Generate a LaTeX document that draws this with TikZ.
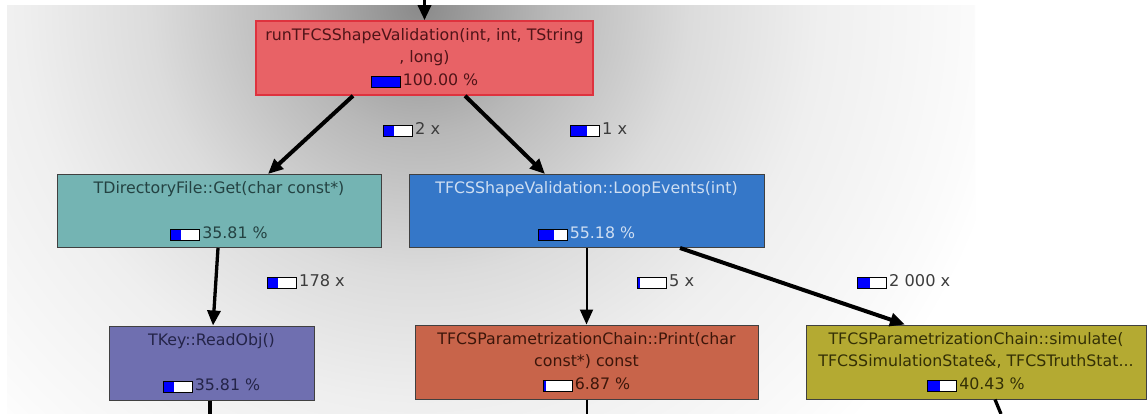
\documentclass[tikz,border=0pt]{standalone}
\usepackage{fontspec}
\setmainfont{DejaVu Sans}
\usetikzlibrary{arrows.meta}

% node fills
\definecolor{fnRed}{RGB}{232,98,102}
\definecolor{fnTeal}{RGB}{116,180,179}
\definecolor{fnBlue}{RGB}{53,119,200}
\definecolor{fnPurple}{RGB}{111,111,176}
\definecolor{fnOrange}{RGB}{200,100,74}
\definecolor{fnOlive}{RGB}{180,170,50}
% node text
\definecolor{txRed}{RGB}{80,20,24}
\definecolor{txTeal}{RGB}{36,66,66}
\definecolor{txBlue}{RGB}{206,222,242}
\definecolor{txPurple}{RGB}{36,36,72}
\definecolor{txOrange}{RGB}{60,22,10}
\definecolor{txOlive}{RGB}{52,48,6}
\definecolor{txLabel}{RGB}{60,60,60}
\definecolor{barBlue}{RGB}{0,0,255}
\definecolor{selRed}{RGB}{222,50,62}
% background glow
\definecolor{bgA}{RGB}{138,138,138}
\definecolor{bgB}{RGB}{184,184,184}
\definecolor{bgC}{RGB}{220,220,220}
\definecolor{bgD}{RGB}{239,239,239}
\definecolor{bgE}{RGB}{251,251,251}
\pgfdeclareradialshading{bgglow}{\pgfpoint{0bp}{0bp}}{%
  color(0bp)=(bgA); color(5.4bp)=(bgB); color(11.25bp)=(bgC);
  color(16.65bp)=(bgD); color(23.35bp)=(bgE); color(25bp)=(white);
  color(50bp)=(white)}

% cost bar: #1 = filled part of the 28pt inner width
\newcommand{\costbar}[1]{%
  \raisebox{-1.5pt}{\textcolor{black}{\setlength{\fboxsep}{0pt}\setlength{\fboxrule}{1pt}%
  \fbox{\textcolor{barBlue}{\rule{#1pt}{10pt}}\textcolor{white}{\rule{\dimexpr28pt-#1pt\relax}{10pt}}}}}%
  \hspace{2pt}}

\tikzset{
  fn/.style={rectangle, draw=black!75, line width=1pt, inner sep=0pt,
    align=center, font=\fontsize{15.8}{22.5}\selectfont},
  callcount/.style={anchor=west, inner sep=0pt, text=txLabel,
    font=\fontsize{16.2}{19}\selectfont},
  call/.style={draw=black, -{Triangle[length=15pt,width=13pt]}},
  heavy/.style={line width=4pt},
  medium/.style={line width=3.3pt},
  light/.style={line width=2pt},
}

\begin{document}
\begin{tikzpicture}[x=1pt,y=-1pt]
\useasboundingbox (0,0) rectangle (1148,414);
\fill[white] (0,0) rectangle (1148,414);
\begin{scope}
  \clip (7,6) rectangle (975,414);
  \shade[shading=bgglow] (420,6) circle (600pt);
\end{scope}

% functions
\node[fn, fill=fnRed, draw=selRed, line width=1.6pt, text=txRed,
      minimum width=337pt, minimum height=74pt] (top) at (424.5,58)
  {runTFCSShapeValidation(int, int, TString\\, long)\\\costbar{28}100.00 \%};
\node[fn, fill=fnTeal, text=txTeal, minimum width=324pt, minimum height=73pt]
  (get) at (219,211)
  {TDirectoryFile::Get(char const*)\\\strut\\\costbar{10}35.81 \%};
\node[fn, fill=fnBlue, text=txBlue, minimum width=355pt, minimum height=73pt]
  (loop) at (586.5,211)
  {TFCSShapeValidation::LoopEvents(int)\\\strut\\\costbar{15.5}55.18 \%};
\node[fn, fill=fnPurple, text=txPurple, minimum width=205pt, minimum height=74pt]
  (read) at (211.5,363)
  {TKey::ReadObj()\\\strut\\\costbar{10}35.81 \%};
\node[fn, fill=fnOrange, text=txOrange, minimum width=343pt, minimum height=74pt]
  (print) at (586.5,362)
  {TFCSParametrizationChain::Print(char\\const*) const\\\costbar{1.9}6.87 \%};
\node[fn, fill=fnOlive, text=txOlive, minimum width=340pt, minimum height=74pt]
  (sim) at (976,362)
  {TFCSParametrizationChain::simulate(\\TFCSSimulationState\&, TFCSTruthStat...\\\costbar{11.3}40.43 \%};

% loose ends of calls leaving the view
\coordinate (caller) at (424.5,0);
\coordinate (readOut) at (210,414);
\coordinate (printOut) at (586.5,414);
\coordinate (simOut) at (1001,414);

% calls
\draw[call, medium] (caller) -- (top.north);
\draw[call, heavy] ([xshift=-71.5pt]top.south) -- ([xshift=49pt]get.north);
\draw[call, heavy] ([xshift=40.5pt]top.south) -- ([xshift=-41.5pt]loop.north);
\draw[call, medium] ([xshift=-1pt]get.south) -- ([xshift=1.5pt]read.north);
\draw[call, light] (loop.south) -- (print.north);
\draw[call, heavy] ([xshift=93.5pt]loop.south) -- ([xshift=-71pt]sim.north);
\draw[medium] ([xshift=-1.5pt]read.south) -- (readOut);
\draw[light] (print.south) -- (printOut);
\draw[medium] ([xshift=19pt]sim.south) -- (simOut);

% call counts
\node[callcount] (c1) at (383,130) {\costbar{10}2 x};
\node[callcount] (c2) at (570,130) {\costbar{15.5}1 x};
\node[callcount] (c3) at (267,282) {\costbar{10}178 x};
\node[callcount] (c4) at (637,282) {\costbar{1.9}5 x};
\node[callcount] (c5) at (857,282) {\costbar{11.3}2 000 x};
\end{tikzpicture}
\end{document}
